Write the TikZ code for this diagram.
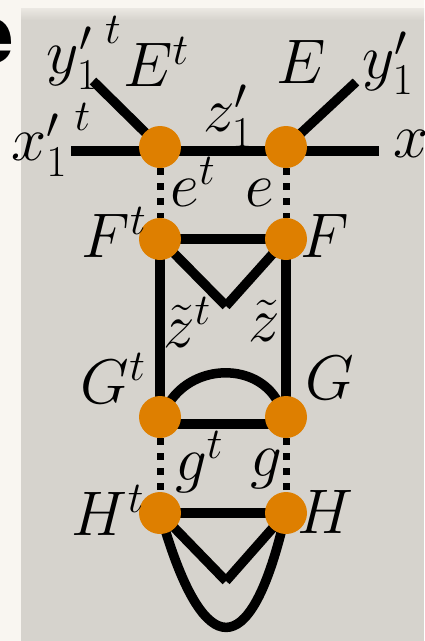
\RequirePackage{fix-cm}
\documentclass[tikz,border=0pt]{standalone}
\usepackage{fontspec}
\usepackage{xcolor}
\newfontfamily\headfont{TeX Gyre Heros}

\definecolor{dotorange}{HTML}{DE7F00}
\definecolor{panelgray}{HTML}{D6D3CD}
\definecolor{pagewhite}{HTML}{F9F6F1}

\pgfdeclarelayer{backdrop}
\pgfdeclarelayer{edges}
\pgfsetlayers{backdrop,edges,main}

\tikzset{
    vertex/.style={circle, fill=dotorange, minimum size=42pt, inner sep=0pt},
    bond/.style={line width=9.5pt},
    cut/.style={line width=7pt, dash pattern=on 7pt off 8pt},
    lbl/.style={inner sep=0pt, font=\fontsize{63}{75}\selectfont},
}

\begin{document}
\begin{tikzpicture}[x=1pt, y=-1pt]
    \useasboundingbox (0,0) rectangle (424,641);

    % Page and panel
    \begin{pgfonlayer}{backdrop}
        \fill[pagewhite] (0,0) rectangle (424,641);
        \fill[panelgray] (21,8) rectangle (424,641);
        \shade[top color=pagewhite!60!panelgray, bottom color=panelgray] (21,8) rectangle (424,20);
    \end{pgfonlayer}

    % Cut-off heading letter
    \node[anchor=base east, inner sep=0pt, font=\headfont\bfseries\fontsize{82}{90}\selectfont] (head) at (14,63) {e};

    % Vertices
    \node[vertex] (Et) at (160,147) {};
    \node[vertex] (E)  at (286,147) {};
    \node[vertex] (Ft) at (160,239) {};
    \node[vertex] (F)  at (286,239) {};
    \node[vertex] (Gt) at (160,417) {};
    \node[vertex] (G)  at (286,417) {};
    \node[vertex] (Ht) at (160,513) {};
    \node[vertex] (H)  at (286,513) {};

    % Free ends and kinks
    \coordinate (xl) at (71,151);
    \coordinate (xr) at (379,151);
    \coordinate (yl) at (93,81);
    \coordinate (yr) at (356,82);
    \coordinate (Fv) at (226,306);
    \coordinate (Hv) at (226,581);

    % Lines
    \begin{pgfonlayer}{edges}
        \draw[bond] (xl) -- ([yshift=-4pt]Et.center) -- ([yshift=-4pt]E.center) -- (xr);
        \draw[bond] (yl) -- (Et.center);
        \draw[bond] (yr) -- (E.center);
        \draw[cut] (Et) -- (Ft);
        \draw[cut] (E) -- (F);

        \draw[bond] (Ft.center) -- (F.center);
        \draw[bond] (Ft.center) -- (Fv);
        \draw[bond] (F.center) -- (Fv);
        \draw[bond] (Ft.center) -- (Gt.center);
        \draw[bond] (F.center) -- (G.center);

        \draw[bond] ([yshift=-7pt]Gt.center) -- ([yshift=-7pt]G.center);
        \draw[bond, shorten <=-4pt, shorten >=-4pt] (Gt) .. controls (195,363) and (257,363) .. (G);
        \draw[cut] (Gt) -- (Ht);
        \draw[cut] (G) -- (H);

        \draw[bond] (Ht.center) -- (H.center);
        \draw[bond] (Ht.center) -- (Hv);
        \draw[bond] (H.center) -- (Hv);
        \draw[bond, shorten <=-4pt, shorten >=-4pt] (Ht) .. controls (205,660) and (249,660) .. (H);
    \end{pgfonlayer}

    % Labels
    \node[lbl] (lyt) at (84,53) {${y_1'}^{\mkern3mu t}$};
    \node[lbl] (lEt) at (156,62) {$E^t$};
    \node[lbl] (lxt) at (51,140) {${x_1'}^{\mkern3mu t}$};
    \node[lbl] (lz) at (228,116) {$z_1'$};
    \node[lbl] (lE) at (301,62) {$E$};
    \node[lbl] (ly) at (388,63) {$y_1'$};
    \node[lbl, anchor=base west] (lx) at (393,157) {$x_1'$};
    \node[lbl] (let) at (193,182) {$e^t$};
    \node[lbl] (le) at (260,193) {$e$};
    \node[lbl] (lFt) at (114,232) {$F^t$};
    \node[lbl] (lF) at (325,236) {$F$};
    \node[lbl] (lzt) at (187,322) {$\tilde{z}^t$};
    \node[lbl] (lzz) at (264,321) {$\tilde{z}$};
    \node[lbl] (lGt) at (113,378) {$G^t$};
    \node[lbl] (lG) at (330,378) {$G$};
    \node[lbl] (lgt) at (199,462) {$g^t$};
    \node[lbl] (lg) at (266,469) {$g$};
    \node[lbl] (lHt) at (108,510) {$H^t$};
    \node[lbl] (lH) at (325,512) {$H$};
\end{tikzpicture}
\end{document}
